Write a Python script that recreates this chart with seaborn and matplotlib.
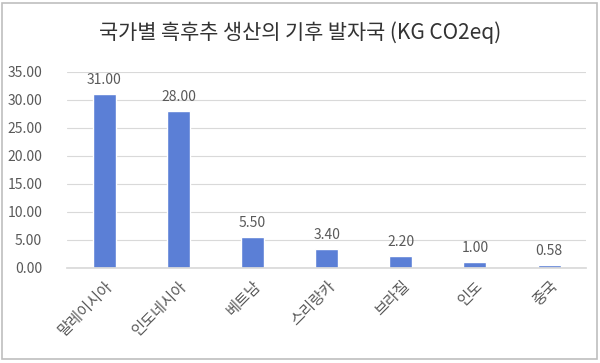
import matplotlib
matplotlib.use('Agg')
import matplotlib.pyplot as plt
import seaborn as sns
import pandas as pd
from matplotlib.patches import Rectangle

# data
countries = ['말레이시아', '인도네시아', '베트남', '스리랑카', '브라질', '인도', '중국']
emissions = [31.00, 28.00, 5.50, 3.40, 2.20, 1.00, 0.58]
yticks = [0, 5, 10, 15, 20, 25, 30, 35]

df = pd.DataFrame({'country': countries, 'value': emissions})

sns.set_theme(style='white')
plt.rcParams['font.family'] = ['Noto Sans CJK KR', 'DejaVu Sans']

fig = plt.figure(figsize=(6, 3.63), dpi=100)
ax = fig.add_axes([0.112, 0.262, 0.865, 0.54])

sns.barplot(data=df, x='country', y='value', color='#5B7FD6', width=0.31,
            saturation=1, ax=ax)

ax.set_ylim(0, 35)
ax.set_yticks(yticks)
ax.set_yticklabels([f'{t:.2f}' for t in yticks], color='#595959', fontsize=10)
ax.yaxis.grid(True, color='#D9D9D9', linewidth=0.8)
ax.set_axisbelow(True)
for s in ['top', 'right', 'left']:
    ax.spines[s].set_visible(False)
ax.spines['bottom'].set_color('#D9D9D9')
ax.tick_params(axis='y', length=0, pad=18)
ax.tick_params(axis='x', length=0, pad=7)
ax.set_xlabel('')
ax.set_ylabel('')

plt.setp(ax.get_xticklabels(), rotation=45, ha='right', rotation_mode='anchor',
         color='#595959', fontsize=11)

# value labels
for p, v in zip(ax.patches, emissions):
    ax.annotate(f'{v:.2f}', (p.get_x() + p.get_width() / 2, p.get_height()),
                ha='center', va='bottom', xytext=(0, 5), textcoords='offset points',
                fontsize=10, color='#595959')

fig.text(0.5, 0.91, '국가별 흑후추 생산의 기후 발자국 (KG CO2eq)', ha='center', va='center',
         fontsize=15, color='#333333')

fig.patches.append(Rectangle((0.004, 0.012), 0.991, 0.98, transform=fig.transFigure,
                             fill=False, edgecolor='#BFBFBF', linewidth=1.2))

fig.savefig('out.png', dpi=100)
